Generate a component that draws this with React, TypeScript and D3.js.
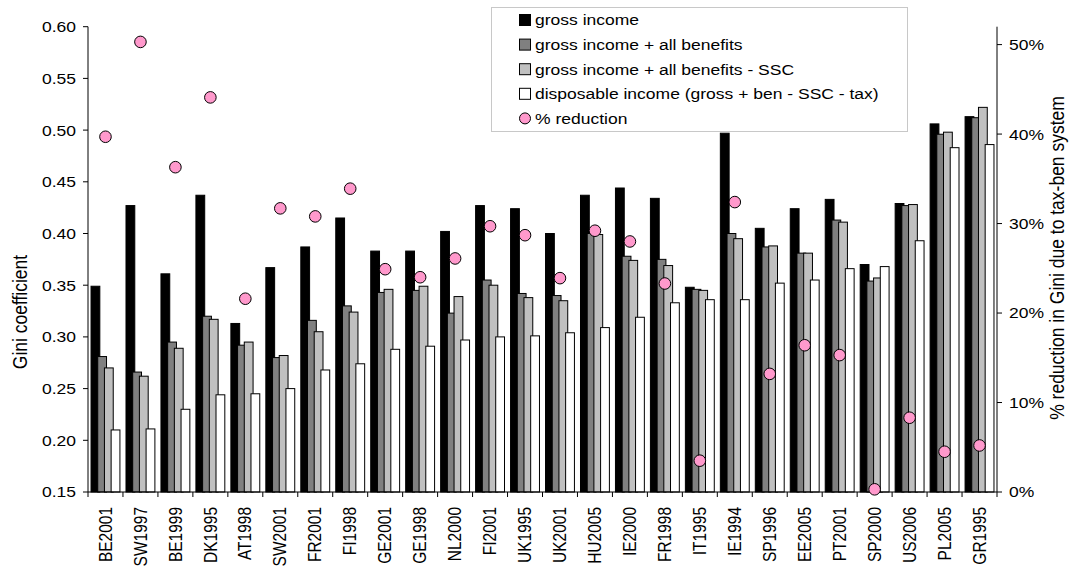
import React from "react";
import * as d3 from "d3";

const categories = ["BE2001","SW1997","BE1999","DK1995","AT1998","SW2001","FR2001","FI1998","GE2001","GE1998","NL2000","FI2001","UK1995","UK2001","HU2005","IE2000","FR1998","IT1995","IE1994","SP1996","EE2005","PT2001","SP2000","US2006","PL2005","GR1995"];
const grossIncome = [0.349,0.427,0.361,0.437,0.313,0.367,0.387,0.415,0.383,0.383,0.402,0.427,0.424,0.400,0.437,0.444,0.434,0.348,0.497,0.405,0.424,0.433,0.370,0.429,0.506,0.513];
const grossPlusBenefits = [0.281,0.266,0.295,0.320,0.292,0.280,0.316,0.330,0.343,0.345,0.323,0.355,0.342,0.340,0.400,0.378,0.375,0.346,0.400,0.387,0.381,0.413,0.354,0.427,0.496,0.512];
const grossPlusBenefitsMinusSSC = [0.270,0.262,0.289,0.317,0.295,0.282,0.305,0.324,0.346,0.349,0.339,0.350,0.338,0.335,0.399,0.374,0.369,0.345,0.395,0.388,0.381,0.411,0.357,0.428,0.498,0.522];
const disposableIncome = [0.210,0.211,0.230,0.244,0.245,0.250,0.268,0.274,0.288,0.291,0.297,0.300,0.301,0.304,0.309,0.319,0.333,0.336,0.336,0.352,0.355,0.366,0.368,0.393,0.483,0.486];
const pctReduction = [0.397,0.503,0.363,0.441,0.216,0.317,0.308,0.339,0.249,0.240,0.261,0.297,0.287,0.239,0.292,0.280,0.233,0.035,0.324,0.132,0.164,0.153,0.003,0.083,0.045,0.052];
const leftTicks = [0.15,0.20,0.25,0.30,0.35,0.40,0.45,0.50,0.55,0.60];
const rightTicks = [0,0.1,0.2,0.3,0.4,0.5];
const seriesNames = ["gross income","gross income + all benefits","gross income + all benefits - SSC","disposable income (gross + ben - SSC - tax)"];
const seriesColors = ["#000000","#808080","#C0C0C0","#FFFFFF"];
const dotName = "% reduction";

const W = 1070, H = 571;
const L = 88, R = 997, T = 26.7, B = 492;
const FONT = "'Liberation Sans', Arial, sans-serif";
const FS = 15.5;
const SX = 1.13;

export default function App() {
  const x = d3.scaleBand<string>().domain(categories).range([L, R]).padding(0);
  const y = d3.scaleLinear().domain([0.15, 0.6]).range([B, T]);
  const y2 = d3.scaleLinear().domain([0, 0.52]).range([B, T]);
  const series = [grossIncome, grossPlusBenefits, grossPlusBenefitsMinusSSC, disposableIncome];
  const bw = x.bandwidth();
  const barW = 8.8;
  const step = 6.7;
  const groupW = step * 3 + barW;
  const off = (bw - groupW) / 2;

  return (
    <svg width={W} height={H} style={{ position: "absolute", left: 0, top: 0, background: "#fff" }} fontFamily={FONT}>
      <rect x={0} y={0} width={W} height={H} fill="#fff" />
      {series.map((vals, si) => (
        <g key={si}>
          {vals.map((v, i) => (
            <rect key={i} x={(x(categories[i]) as number) + off + si * step} y={y(v)} width={barW} height={B - y(v)}
              fill={seriesColors[si]} stroke="#000" strokeWidth={1} />
          ))}
        </g>
      ))}
      {/* left axis */}
      <line x1={L} x2={L} y1={T} y2={B} stroke="#000" strokeWidth={1} />
      {leftTicks.map((t) => (
        <g key={t}>
          <line x1={L - 5} x2={L} y1={y(t)} y2={y(t)} stroke="#000" />
          <text transform={`translate(${L - 12},${y(t)}) scale(${SX},1)`} dy="0.35em" textAnchor="end" fontSize={FS}>{t.toFixed(2)}</text>
        </g>
      ))}
      {/* right axis */}
      <line x1={R} x2={R} y1={T} y2={B} stroke="#000" strokeWidth={1} />
      {rightTicks.map((t) => (
        <g key={t}>
          <line x1={R} x2={R + 5} y1={y2(t)} y2={y2(t)} stroke="#000" />
          <text transform={`translate(${R + 12},${y2(t)}) scale(${SX},1)`} dy="0.35em" textAnchor="start" fontSize={FS}>{d3.format(".0%")(t)}</text>
        </g>
      ))}
      {/* bottom axis */}
      <line x1={L} x2={R} y1={B} y2={B} stroke="#000" />
      {categories.map((c, i) => (
        <line key={"t" + i} x1={(x(c) as number)} x2={(x(c) as number)} y1={B} y2={B + 5} stroke="#000" />
      ))}
      <line x1={R} x2={R} y1={B} y2={B + 5} stroke="#000" />
      {categories.map((c) => {
        const cx = (x(c) as number) + bw / 2;
        return (
          <text key={c} transform={`translate(${cx},${B + 15}) scale(${SX},1) rotate(-90)`} dy="0.35em" textAnchor="end" fontSize={FS}>{c}</text>
        );
      })}
      {/* dots */}
      {pctReduction.map((v, i) => (
        <circle key={i} cx={(x(categories[i]) as number) + bw / 2} cy={y2(v)} r={5.8} fill="#FF99CC" stroke="#000" strokeWidth={1} />
      ))}
      {/* axis titles */}
      <text transform={`translate(20,312) scale(${SX},1) rotate(-90)`} dy="0.35em" textAnchor="middle" fontSize={17.5}>Gini coefficient</text>
      <text transform={`translate(1057,258) scale(${SX},1) rotate(-90)`} dy="0.35em" textAnchor="middle" fontSize={17.5}>% reduction in Gini due to tax-ben system</text>
      {/* legend */}
      <rect x={491.5} y={7.5} width={416} height={124} fill="#fff" stroke="#C8C8C8" strokeWidth={1} />
      {seriesNames.map((n, i) => (
        <g key={n}>
          <rect x={519.5} y={20 + i * 24.6 - 5.5} width={11} height={11} fill={seriesColors[i]} stroke="#000" strokeWidth={1} />
          <text transform={`translate(535,${20 + i * 24.6}) scale(${SX},1)`} dy="0.35em" fontSize={FS}>{n}</text>
        </g>
      ))}
      <circle cx={525} cy={20 + 4 * 24.6} r={5.5} fill="#FF99CC" stroke="#000" strokeWidth={1} />
      <text transform={`translate(535,${20 + 4 * 24.6}) scale(${SX},1)`} dy="0.35em" fontSize={FS}>{dotName}</text>
    </svg>
  );
}
